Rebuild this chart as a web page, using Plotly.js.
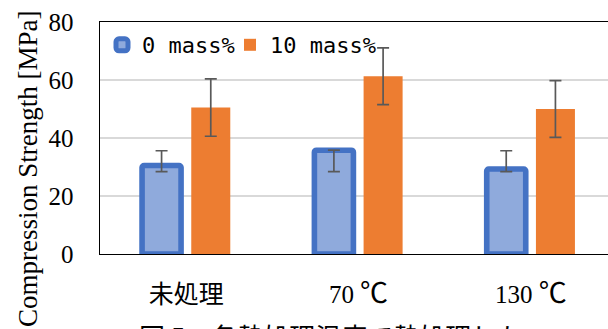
<!DOCTYPE html>
<html>
<head>
<meta charset="utf-8">
<script src="https://cdn.plot.ly/plotly-3.0.1.min.js"></script>
<style>
  html, body { margin: 0; padding: 0; overflow: hidden; background: #fff; }
  #chart { width: 618px; height: 329px; }
</style>
</head>
<body>
<div id="chart"></div>
<script>
// ---- data ----
const categories = ['未処理', '70 ℃', '130 ℃'];
const seriesNames = ['0 mass%', '10 mass%'];
const blueValues = [30.5, 35.8, 29.3];
const blueErrPlus = [5.1, 0.0, 6.3];
const blueErrMinus = [2.1, 7.4, 0.9];
const orangeValues = [50.5, 61.3, 50.0];
const orangeErr = [9.9, 9.8, 9.8];
const yTickVals = [0, 20, 40, 60, 80];
const yTitleText = 'Compression Strength [MPa]';
const captionText = '図 5　各熱処理温度で熱処理した';

// ---- layout geometry ----
const W = 618, H = 329;
const M = { l: 100, r: 1, t: 22, b: 75 };
const PW = W - M.l - M.r, PH = H - M.t - M.b;
const px2x = p => (p - M.l) / PW;
const px2y = p => (H - M.b - p) / PH;

const serif = '"Liberation Serif", "Times New Roman", "Noto Sans CJK JP", serif';
const cjk = '"Noto Sans CJK JP", sans-serif';
const legendFont = { family: '"DejaVu Sans Mono", monospace', size: 22, color: '#000' };
// render the degree sign in the CJK font (full-width, like the original)
const xTickText = categories.map(c => c.replace('℃', '<span style="font-family:\'Noto Sans CJK JP\';font-size:28px">℃</span>'));

const traces = [
  {
    type: 'bar', name: seriesNames[0], x: categories, y: blueValues, legend: 'legend',
    marker: { color: '#8FAADC', line: { color: '#4472C4', width: 5.6 }, cornerradius: 2 },
    error_y: { type: 'data', symmetric: false, array: blueErrPlus, arrayminus: blueErrMinus,
               color: '#595959', thickness: 1.7, width: 6 },
    cliponaxis: false
  },
  {
    type: 'bar', name: seriesNames[1], x: categories, y: orangeValues, legend: 'legend2',
    marker: { color: '#ED7D31', line: { width: 0 } },
    error_y: { type: 'data', array: orangeErr, color: '#595959', thickness: 1.7, width: 6 },
    cliponaxis: false
  }
];

const layout = {
  width: W, height: H,
  margin: M,
  paper_bgcolor: '#fff', plot_bgcolor: '#fff',
  barmode: 'group', bargap: 0.429, bargroupgap: 0.207,
  showlegend: true,
  legend: {
    orientation: 'h', x: px2x(102), y: px2y(24), xanchor: 'left', yanchor: 'top',
    bgcolor: 'rgba(0,0,0,0)', font: legendFont
  },
  legend2: {
    orientation: 'h', x: px2x(230), y: px2y(24), xanchor: 'left', yanchor: 'top',
    bgcolor: 'rgba(0,0,0,0)', font: legendFont
  },
  xaxis: {
    type: 'category', range: [-0.5, 2.5],
    tickmode: 'array', tickvals: categories, ticktext: xTickText,
    showline: true, linecolor: '#000', linewidth: 1.4, mirror: true,
    ticks: '', showgrid: false, zeroline: false,
    tickfont: { family: serif, size: 25, color: '#000' },
    ticklabelstandoff: 18
  },
  yaxis: {
    range: [0, 80], tickvals: yTickVals, ticktext: yTickVals.map(String),
    showline: true, linecolor: '#000', linewidth: 1.4, mirror: true,
    ticks: '', showgrid: true, gridcolor: '#D9D9D9', gridwidth: 1.3, zeroline: false,
    tickfont: { family: serif, size: 25, color: '#000' },
    ticklabelstandoff: 20
  },
  annotations: [
    {
      text: yTitleText, textangle: -90, showarrow: false,
      xref: 'paper', yref: 'paper', x: px2x(28), y: px2y(169),
      xanchor: 'center', yanchor: 'middle',
      font: { family: serif, size: 27, color: '#000' }
    },
    {
      text: captionText, showarrow: false,
      xref: 'paper', yref: 'paper', x: px2x(331), y: px2y(315),
      xanchor: 'center', yanchor: 'top',
      font: { family: cjk, size: 26, color: '#000' }
    }
  ]
};

Plotly.newPlot('chart', traces, layout, { staticPlot: true, displayModeBar: false });
</script>
</body>
</html>
